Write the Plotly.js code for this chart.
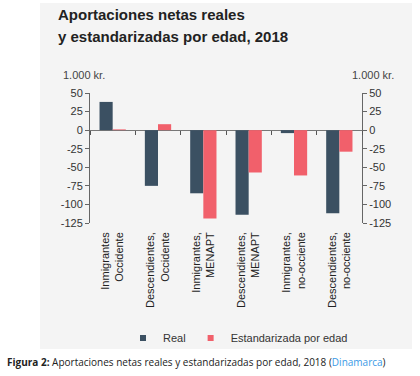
<!DOCTYPE html>
<html>
<head>
<meta charset="utf-8">
<script src="https://cdn.plot.ly/plotly-3.0.1.min.js"></script>
<style>html,body{margin:0;padding:0;background:#fff;}#chart{width:420px;height:376px;}</style>
</head>
<body>
<div id="chart"></div>
<script>
const categories = [
  "Inmigrantes<br>Occidente",
  "Descendientes,<br>Occidente",
  "Inmigrantes,<br>MENAPT",
  "Descendientes,<br>MENAPT",
  "Inmigrantes,<br>no-occiente",
  "Descendientes,<br>no-occiente"
];
const realValues = [38, -75, -85, -114, -4, -112];
const standardizedValues = [1, 8, -119, -57, -61, -29];
const seriesNames = ["Real", "Estandarizada por edad"];
const yTicks = [50, 25, 0, -25, -50, -75, -100, -125];
const unitLabel = "1.000 kr.";

const DARK = "#3B5062", RED = "#F1606B";
const FONT = "Liberation Sans, Arial, sans-serif";

// plot area in px: x 90..362, y 93..223
const L = 90, R = 362, T = 93, B = 223;
const W = 420, H = 376;
const px = x => (x - L) / (R - L);
const py = y => (B - y) / (B - T);

const traces = [
  {type: "bar", x: categories, y: realValues, name: seriesNames[0], marker: {color: DARK}, showlegend: false, xaxis: "x", yaxis: "y"},
  {type: "bar", x: categories, y: standardizedValues, name: seriesNames[1], marker: {color: RED}, showlegend: false, xaxis: "x", yaxis: "y"},
  {type: "scatter", mode: "markers", x: [categories[0]], y: [null], name: seriesNames[0], marker: {color: DARK, symbol: "square", size: 6}, hoverinfo: "skip", xaxis: "x2", yaxis: "y2"},
  {type: "scatter", mode: "markers", x: [categories[0]], y: [null], name: seriesNames[1], marker: {color: RED, symbol: "square", size: 6}, hoverinfo: "skip", xaxis: "x2", yaxis: "y2"}
];

const yaxisCommon = {
  range: [-125, 50], autorange: false, tickvals: yTicks, ticktext: yTicks.map(String),
  showgrid: false, showline: true, linecolor: "#666", linewidth: 1,
  ticks: "outside", ticklen: 4, tickcolor: "#666",
  tickfont: {family: FONT, size: 11, color: "#333"}, fixedrange: true
};

const layout = {
  width: W, height: H,
  margin: {l: L, r: W - R, t: T, b: H - B, pad: 0},
  paper_bgcolor: "#ffffff", plot_bgcolor: "rgba(0,0,0,0)",
  barmode: "group", bargap: 0.42, bargroupgap: 0,
  showlegend: true,
  legend: {orientation: "h", x: px(123), xanchor: "left", y: py(338), yanchor: "middle",
           font: {family: FONT, size: 11, color: "#333"}, bgcolor: "rgba(0,0,0,0)", itemclick: false},
  xaxis: {type: "category", anchor: "y", showline: false, ticks: "", showgrid: false, zeroline: false,
          tickangle: -90, ticklabelstandoff: 6, tickfont: {family: FONT, size: 11, color: "#222"}, fixedrange: true},
  xaxis2: {type: "category", matches: "x", overlaying: "x", anchor: "free", position: 125/175,
           showline: false, showgrid: false, zeroline: false, showticklabels: false,
           ticks: "outside", tickson: "boundaries", ticklen: 4, tickwidth: 1, tickcolor: "#555"},
  yaxis: Object.assign({}, yaxisCommon, {side: "left", zeroline: true, zerolinecolor: "#777", zerolinewidth: 1}),
  yaxis2: Object.assign({}, yaxisCommon, {side: "right", overlaying: "y", anchor: "x", zeroline: false}),
  shapes: [
    {type: "rect", xref: "paper", yref: "paper", x0: px(40), x1: px(412), y0: py(349), y1: py(3),
     fillcolor: "#F4F4F4", line: {width: 0}, layer: "below"}
  ],
  annotations: [
    {xref: "paper", yref: "paper", x: px(56), y: py(15), xanchor: "left", yanchor: "middle", showarrow: false,
     text: "<b>Aportaciones netas reales</b>", font: {family: FONT, size: 15, color: "#222"}},
    {xref: "paper", yref: "paper", x: px(56), y: py(36), xanchor: "left", yanchor: "middle", showarrow: false,
     text: "<b>y estandarizadas por edad, 2018</b>", font: {family: FONT, size: 15, color: "#222"}},
    {xref: "paper", yref: "paper", x: px(84), y: py(75), xanchor: "center", yanchor: "middle", showarrow: false,
     text: unitLabel, font: {family: FONT, size: 11, color: "#444"}},
    {xref: "paper", yref: "paper", x: px(373), y: py(75), xanchor: "center", yanchor: "middle", showarrow: false,
     text: unitLabel, font: {family: FONT, size: 11, color: "#444"}},
    {xref: "paper", yref: "paper", x: px(5), y: py(362), xanchor: "left", yanchor: "middle", showarrow: false,
     text: "<b>Figura 2:</b> Aportaciones netas reales y estandarizadas por edad, 2018 (<span style=\"color:#3A9AE6\">Dinamarca</span>)",
     font: {family: "Open Sans, sans-serif", size: 10, color: "#222"}}
  ]
};

Plotly.newPlot("chart", traces, layout, {staticPlot: true, displayModeBar: false});
</script>
</body>
</html>
